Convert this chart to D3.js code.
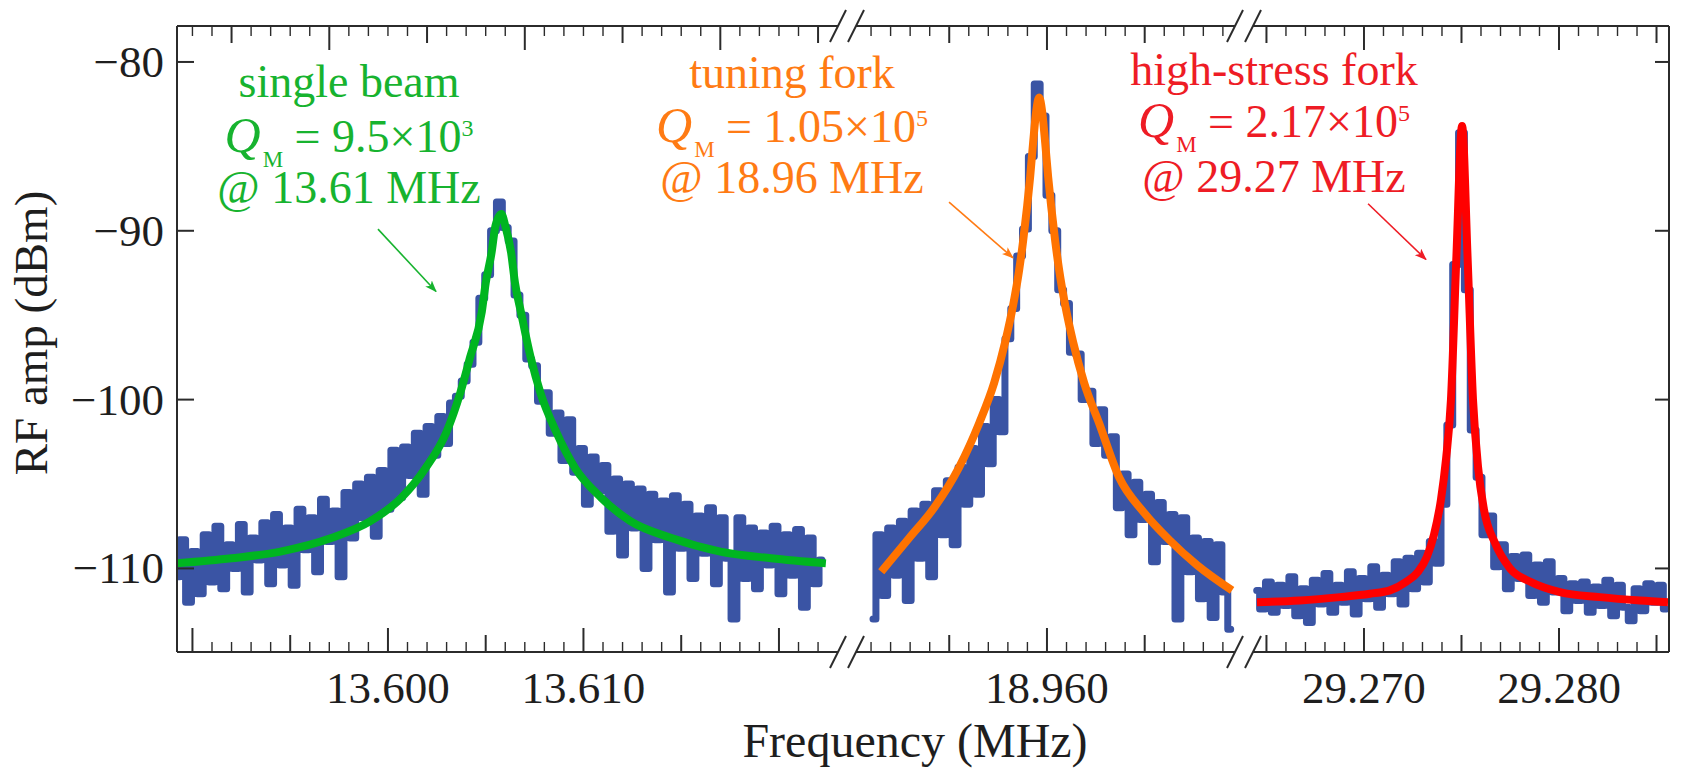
<!DOCTYPE html>
<html>
<head>
<meta charset="utf-8">
<script src="https://cdn.jsdelivr.net/npm/d3@7"></script>
<style>
  html, body { margin: 0; padding: 0; background: #fff; }
  svg { display: block; font-family: "Liberation Serif", "Times New Roman", serif; }
</style>
</head>
<body>
<svg id="chart" width="1681" height="771"></svg>
<script>
// ---- data ----
// frequency window of each broken-axis panel (MHz)
const panelDomains = [[13.58921, 13.62302], [18.95023, 18.96962], [29.26431, 29.28564]];
const xTickLabels = [["13.600", "13.610"], ["18.960"], ["29.270", "29.280"]];
const topTickPhase = [7, 0, 0];          // the top axis of panel 1 is shifted by 3 minor ticks
const yTicks = [-80, -90, -100, -110];
const yDomain = [-114.95, -77.87];

// measured spectra (dBm), sampled every rawStep MHz from rawStart
const rawStart = [13.5892, 18.9511, 29.2645];
const rawStep = 0.0003;
const raw1 = [-110.5,-108.3,-112.0,-109.0,-111.5,-108.0,-110.8,-107.5,-111.2,-108.6,
  -110.0,-107.4,-111.4,-108.2,-109.5,-107.3,-110.9,-106.8,-109.8,-107.6,
  -111.0,-106.5,-108.9,-107.0,-110.2,-105.9,-108.4,-106.6,-110.5,-105.5,
  -108.2,-105.0,-107.0,-104.6,-108.1,-104.2,-106.5,-103.0,-105.8,-102.8,
  -104.5,-102.0,-105.6,-101.6,-103.3,-101.0,-102.6,-100.2,-99.8,-98.9,
  -97.9,-96.6,-94.0,-92.6,-90.0,-88.3,-89.8,-90.6,-93.8,-95.0,
  -97.6,-98.0,-100.1,-99.6,-102.0,-100.8,-103.6,-101.2,-104.3,-102.9,
  -106.2,-103.4,-105.4,-103.9,-107.8,-104.7,-109.2,-105.0,-107.6,-105.3,
  -110.0,-105.6,-108.3,-106.0,-111.4,-105.7,-108.8,-106.2,-110.6,-106.9,
  -109.1,-106.4,-110.9,-107.0,-109.4,-113.0,-107.0,-110.6,-107.6,-111.2,
  -107.9,-109.8,-107.5,-111.5,-108.0,-110.4,-107.7,-112.3,-108.2,-110.9,-109.5];
const raw2 = [-113.0,-108.0,-111.6,-107.6,-110.4,-107.2,-111.9,-106.6,-109.4,-106.2,
  -110.5,-105.4,-108.0,-104.8,-108.6,-104.0,-106.2,-102.9,-105.6,-101.6,
  -103.8,-100.0,-101.9,-96.4,-94.6,-91.5,-89.9,-85.6,-81.3,-83.2,
  -87.9,-90.0,-93.5,-94.3,-97.2,-97.3,-100.0,-99.5,-102.6,-100.6,
  -103.3,-102.2,-106.4,-104.4,-108.0,-104.9,-107.1,-105.6,-109.6,-106.1,
  -108.4,-106.8,-113.0,-107.0,-110.2,-108.2,-111.8,-108.4,-112.9,-108.6,-111.4,-113.6];
const raw3 = [-111.3,-112.4,-110.8,-112.6,-111.0,-112.2,-110.5,-112.8,-111.2,-113.2,
  -110.7,-112.1,-110.3,-112.6,-111.0,-112.0,-110.2,-112.7,-110.6,-111.8,
  -109.9,-112.3,-110.4,-111.5,-109.6,-112.1,-109.4,-111.2,-109.1,-110.8,
  -108.4,-109.7,-106.2,-101.5,-92.0,-84.2,-93.5,-101.8,-104.6,-108.0,
  -106.9,-109.9,-108.6,-111.2,-109.3,-110.6,-109.2,-111.6,-109.8,-112.0,
  -109.6,-111.4,-110.6,-112.5,-110.9,-111.9,-110.8,-112.6,-111.1,-112.2,
  -110.7,-112.8,-111.0,-112.3,-113.1,-111.2,-112.5,-110.9,-112.0,-111.0,-112.4];

// Lorentzian fits [MHz, dBm]
const fit1 = [[13.5892,-109.7],[13.5920,-109.4],[13.5945,-109.0],[13.5971,-108.2],[13.5991,-107.2],
  [13.6007,-105.8],[13.6019,-104.1],[13.6030,-101.9],[13.6037,-99.6],[13.6042,-97.5],
  [13.6048,-94.8],[13.6050,-93.1],[13.6053,-91.3],[13.6055,-89.7],[13.6058,-89.0],
  [13.6060,-89.7],[13.6063,-91.3],[13.6065,-93.1],[13.6068,-94.8],[13.6073,-97.5],
  [13.6078,-99.6],[13.6086,-101.9],[13.6096,-104.1],[13.6109,-105.8],[13.6124,-107.2],
  [13.6145,-108.2],[13.6170,-109.0],[13.6196,-109.4],[13.6224,-109.7]];
const fit2 = [[18.95152,-110.2],[18.95295,-108.2],[18.95423,-106.4],[18.95551,-104.0],[18.95653,-101.4],
  [18.9573,-99.0],[18.95786,-96.6],[18.95827,-94.4],[18.95858,-92.3],[18.95878,-90.6],
  [18.95899,-88.5],[18.95914,-86.8],[18.95929,-84.8],[18.95945,-82.9],[18.9596,-82.1],
  [18.95975,-82.9],[18.95991,-84.8],[18.96006,-86.8],[18.96021,-88.5],[18.96042,-90.6],
  [18.96062,-92.3],[18.96093,-94.4],[18.96134,-96.6],[18.9619,-99.0],[18.96267,-101.4],
  [18.96369,-104.6],[18.96497,-106.7],[18.96625,-108.3],[18.96768,-109.8],[18.96947,-111.3]];
const fit3 = [[29.26451,-112.0],[29.26672,-111.9],[29.26877,-111.7],[29.27031,-111.5],[29.27133,-111.3],
  [29.27215,-110.8],[29.27277,-110.2],[29.27323,-109.3],[29.27359,-108.0],[29.27395,-105.9],
  [29.27421,-103.5],[29.27446,-100.0],[29.27474,-91.5],[29.27503,-83.8],[29.27531,-91.5],
  [29.27559,-100.0],[29.27585,-104.0],[29.27615,-106.5],[29.27672,-108.5],[29.27749,-110.0],
  [29.27856,-110.8],[29.28005,-111.4],[29.28210,-111.7],[29.28415,-111.9],[29.28559,-112.0]];

const annotations = [
  { title: "single beam", mant: "9.5", exp: "3", at: "13.61", color: "#17b32f", x: 349, y: [97, 152, 203],
    arrow: [[13.59949, -89.9], [13.60246, -93.6]], panel: 0 },
  { title: "tuning fork", mant: "1.05", exp: "5", at: "18.96", color: "#ff7b14", x: 792, y: [88, 142, 193],
    arrow: [[18.95499, -88.3], [18.95826, -91.6]], panel: 1 },
  { title: "high-stress fork", mant: "2.17", exp: "5", at: "29.27", color: "#ee1c25", x: 1274, y: [85, 137, 192],
    arrow: [[29.27021, -88.4], [29.27318, -91.7]], panel: 2 }
];

// ---- layout ----
const W = 1681, H = 771;
const plotL = 177, plotR = 1669, plotT = 26, plotB = 652;
const panelRanges = [[177, 838], [856, 1235], [1253, 1669]];
const AXIS = '#2b2b2b';
const BLUE = '#3a54a4';
const fitColors = ['#00b520', '#ff7300', '#ff0000'];

const svg = d3.select('#chart');
const xs = panelDomains.map((d, i) => d3.scaleLinear().domain(d).range(panelRanges[i]));
const yScale = d3.scaleLinear().domain(yDomain).range([plotB, plotT]);

svg.append('rect').attr('width', W).attr('height', H).attr('fill', '#fff');

const defs = svg.append('defs');
defs.append('clipPath').attr('id', 'plotClip')
  .append('rect').attr('x', plotL).attr('y', plotT).attr('width', plotR - plotL).attr('height', plotB - plotT);

// arrow markers
annotations.forEach((a, i) => {
  defs.append('marker')
    .attr('id', 'arrow' + i)
    .attr('markerUnits', 'userSpaceOnUse')
    .attr('markerWidth', 12).attr('markerHeight', 9)
    .attr('refX', 11).attr('refY', 4.5)
    .attr('orient', 'auto')
    .append('path').attr('d', 'M0,0 L12,4.5 L0,9 L3,4.5 Z').attr('fill', a.color);
});

// ---- traces ----
const traces = svg.append('g').attr('clip-path', 'url(#plotClip)');
const raws = [raw1, raw2, raw3];
const fits = [fit1, fit2, fit3];

// stepped, thick noisy trace -> dense band like the analyser output
raws.forEach((vals, p) => {
  const pts = vals.map((v, i) => [rawStart[p] + i * rawStep, v]);
  traces.append('path')
    .datum(pts)
    .attr('d', d3.line().curve(d3.curveStep).x(d => xs[p](d[0])).y(d => yScale(d[1])))
    .attr('fill', 'none')
    .attr('stroke', BLUE)
    .attr('stroke-width', 7)
    .attr('stroke-linejoin', 'round')
    .attr('stroke-linecap', 'round');
});

fits.forEach((pts, p) => {
  traces.append('path')
    .datum(pts)
    .attr('d', d3.line().curve(d3.curveMonotoneX).x(d => xs[p](d[0])).y(d => yScale(d[1])))
    .attr('fill', 'none')
    .attr('stroke', fitColors[p])
    .attr('stroke-width', 8)
    .attr('stroke-linejoin', 'round');
});

// ---- axes frame ----
const axisG = svg.append('g').attr('stroke', AXIS).attr('fill', 'none');

axisG.append('line').attr('x1', plotL).attr('x2', plotL).attr('y1', plotT).attr('y2', plotB).attr('stroke-width', 2);
axisG.append('line').attr('x1', plotR).attr('x2', plotR).attr('y1', plotT).attr('y2', plotB).attr('stroke-width', 2);

panelRanges.forEach(r => {
  [plotT, plotB].forEach(yy => {
    axisG.append('line').attr('x1', r[0]).attr('x2', r[1]).attr('y1', yy).attr('y2', yy).attr('stroke-width', 2);
  });
});

// break marks
[838, 856, 1235, 1253].forEach(cx => {
  [plotT, plotB].forEach(yy => {
    axisG.append('line')
      .attr('x1', cx - 8).attr('y1', yy + 16)
      .attr('x2', cx + 8).attr('y2', yy - 16)
      .attr('stroke-width', 2);
  });
});

// x ticks: minor every 1 kHz, medium every 5 kHz, long every 10 kHz
function tickLen(k, phase) {
  const m = ((k - phase) % 10 + 10) % 10;
  if (m === 0) return 24;
  if (m === 5) return 17;
  return 10;
}

xs.forEach((sc, p) => {
  const [d0, d1] = sc.domain();
  const ks = d3.range(Math.ceil(d0 * 1000 - 1e-6), Math.floor(d1 * 1000 + 1e-6) + 1);
  ks.forEach(k => {
    const px = sc(k / 1000);
    if (px < panelRanges[p][0] + 3 || px > panelRanges[p][1] - 3) return;
    const lb = tickLen(k, 0);
    axisG.append('line').attr('x1', px).attr('x2', px)
      .attr('y1', plotB).attr('y2', plotB - lb).attr('stroke-width', lb > 10 ? 2 : 1.4);
    const lt = tickLen(k, topTickPhase[p]);
    axisG.append('line').attr('x1', px).attr('x2', px)
      .attr('y1', plotT).attr('y2', plotT + lt).attr('stroke-width', lt > 10 ? 2 : 1.4);
  });
});

// y ticks
yTicks.forEach(v => {
  axisG.append('line').attr('x1', plotL).attr('x2', plotL + 17).attr('y1', yScale(v)).attr('y2', yScale(v)).attr('stroke-width', 2);
  axisG.append('line').attr('x1', plotR).attr('x2', plotR - 14).attr('y1', yScale(v)).attr('y2', yScale(v)).attr('stroke-width', 2);
});

// ---- labels ----
const textG = svg.append('g').attr('fill', '#1e1e1e').attr('font-size', 45);

yTicks.forEach(v => {
  textG.append('text')
    .attr('x', 164).attr('y', yScale(v) + 15)
    .attr('text-anchor', 'end')
    .text('\u2212' + Math.abs(v));
});

xTickLabels.forEach((labels, p) => {
  labels.forEach(l => {
    textG.append('text')
      .attr('x', xs[p](+l)).attr('y', 703)
      .attr('text-anchor', 'middle')
      .text(l);
  });
});

textG.append('text')
  .attr('x', 915).attr('y', 757)
  .attr('text-anchor', 'middle')
  .attr('font-size', 48)
  .text('Frequency (MHz)');

textG.append('text')
  .attr('transform', 'translate(47,333) rotate(-90)')
  .attr('text-anchor', 'middle')
  .attr('font-size', 47)
  .text('RF amp (dBm)');

// ---- annotations ----
annotations.forEach((a, i) => {
  const g = svg.append('g').attr('fill', a.color).attr('font-size', 46).attr('text-anchor', 'middle');
  g.append('text').attr('x', a.x).attr('y', a.y[0]).text(a.title);

  const q = g.append('text').attr('x', a.x).attr('y', a.y[1]);
  q.append('tspan').attr('font-style', 'italic').attr('font-size', 50).text('Q');
  q.append('tspan').attr('font-size', 23).attr('dx', 2).attr('dy', 15).text('M');
  q.append('tspan').attr('dy', -15).text(` = ${a.mant}\u00d710`);
  q.append('tspan').attr('font-size', 24).attr('dy', -16).text(a.exp);

  g.append('text').attr('x', a.x).attr('y', a.y[2]).text(`@ ${a.at} MHz`);

  const sc = xs[a.panel];
  svg.append('line')
    .attr('x1', sc(a.arrow[0][0])).attr('y1', yScale(a.arrow[0][1]))
    .attr('x2', sc(a.arrow[1][0])).attr('y2', yScale(a.arrow[1][1]))
    .attr('stroke', a.color)
    .attr('stroke-width', 1.6)
    .attr('marker-end', `url(#arrow${i})`);
});
</script>
</body>
</html>
